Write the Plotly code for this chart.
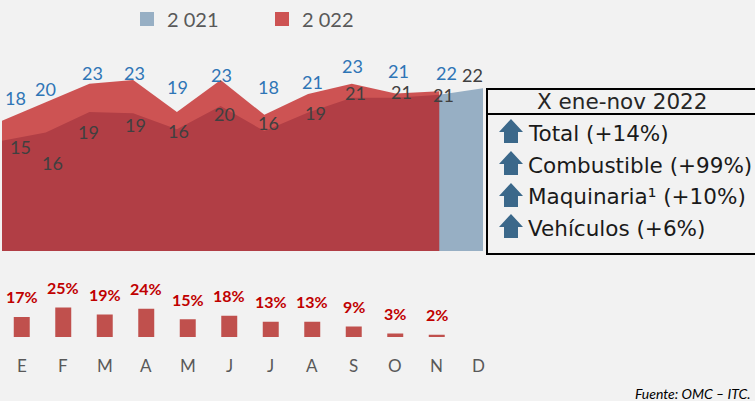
import plotly.graph_objects as go

W, H = 755, 401

# ---- data ----
months = ["E", "F", "M", "A", "M", "J", "J", "A", "S", "O", "N", "D"]
values_2021 = [14.9, 16.0, 18.8, 18.6, 16.45, 19.6, 16.2, 18.7, 20.7, 20.7, 21.1, 22.0]
values_2022 = [17.6, 20.1, 22.6, 23.1, 18.8, 23.1, 18.4, 21.2, 22.6, 21.3, 21.6]
growth_pct = [17, 25, 19, 24, 15, 18, 13, 13, 9, 3, 2]
series_names = ["2 021", "2 022"]
box_title = "X ene-nov 2022"
box_rows = ["Total (+14%)", "Combustible (+99%)", "Maquinaria\u00b9 (+10%)", "Veh\u00edculos (+6%)"]
source_text = "Fuente: OMC \u2013 ITC."

# ---- label placement offsets (pixels, styling only) ----
lbl22_dx = [13, 0, 3, 1, 1, 1, 4, 4, 1, 3, 7]
lbl22_dy = [-23, -13, -11, -7, -25, -5, -28, -12, -18, -22, -18]
lbl21_dx = [18, 7, -1, 2, 2, 4, 4, 7, 4, 6, 4, -11]
lbl21_dy = [6, 30, 20, 12, 2, 8, -8, 0, -5, -6, 0, -13]

BG = "#F2F2F2"
C21 = "#97AFC4"
C22 = "rgba(188,12,12,0.69)"
BAR = "#C0504D"
ARROW = "#3B688A"


def px(x):
    return x / W


def py(y):
    return 1 - y / H


fig = go.Figure()

x21 = list(range(len(values_2021)))
x22 = list(range(len(values_2022)))

fig.add_trace(go.Scatter(x=x21, y=values_2021, mode="none", fill="tozeroy",
                         fillcolor=C21, name=series_names[0], hoverinfo="skip",
                         xaxis="x", yaxis="y"))
fig.add_trace(go.Scatter(x=x22, y=values_2022, mode="none", fill="tozeroy",
                         fillcolor=C22, name=series_names[1], hoverinfo="skip",
                         xaxis="x", yaxis="y"))

bar_x = list(range(len(growth_pct)))
fig.add_trace(go.Bar(x=bar_x, y=growth_pct, marker=dict(color=BAR, line=dict(width=0)),
                     width=0.385, hoverinfo="skip", xaxis="x2", yaxis="y2"))

ann = []
lab_font = "Lato, 'Open Sans', sans-serif"
for i, v in enumerate(values_2022):
    ann.append(dict(x=i, y=v, xref="x", yref="y", text=str(int(round(v))), showarrow=False,
                    xshift=lbl22_dx[i], yshift=-lbl22_dy[i], xanchor="center", yanchor="middle",
                    font=dict(family=lab_font, size=18, color="#2E75B6")))
for i, v in enumerate(values_2021):
    ann.append(dict(x=i, y=v, xref="x", yref="y", text=str(int(round(v))), showarrow=False,
                    xshift=lbl21_dx[i], yshift=-lbl21_dy[i], xanchor="center", yanchor="middle",
                    font=dict(family=lab_font, size=18, color="#404040")))

for i, p in enumerate(growth_pct):
    ann.append(dict(x=i, y=p, xref="x2", yref="y2", text=f"<b>{p}%</b>", showarrow=False,
                    yshift=20, xanchor="center", yanchor="middle",
                    font=dict(family=lab_font, size=16, color="#C00000")))

for i, m in enumerate(months):
    ann.append(dict(x=i, y=0, xref="x2", yref="y2 domain", text=m, showarrow=False,
                    yshift=-28, xanchor="center", yanchor="middle",
                    font=dict(family=lab_font, size=17, color="#595959")))

# legend
shapes = []
leg = [(140, C21, series_names[0]), (275, C22, series_names[1])]
for lx, col, name in leg:
    shapes.append(dict(type="rect", xref="paper", yref="paper", x0=px(lx), x1=px(lx + 14),
                       y0=py(26), y1=py(12), fillcolor=col, line=dict(width=0), layer="above"))
    ann.append(dict(x=px(lx + 25), y=py(19), xref="paper", yref="paper", text=name,
                    showarrow=False, xanchor="left", yanchor="middle",
                    font=dict(family=lab_font, size=20, color="#595959")))

# info box
shapes.append(dict(type="rect", xref="paper", yref="paper", x0=px(487), x1=px(790),
                   y0=py(254), y1=py(89), line=dict(color="black", width=2), layer="above"))
shapes.append(dict(type="line", xref="paper", yref="paper", x0=px(487), x1=px(790),
                   y0=py(114), y1=py(114), line=dict(color="black", width=2), layer="above"))
box_font = "'DejaVu Sans', Verdana, sans-serif"
ann.append(dict(x=px(622), y=py(102), xref="paper", yref="paper", text=box_title,
                showarrow=False, xanchor="center", yanchor="middle",
                font=dict(family=box_font, size=21.5, color="#262626")))
row_y = [133, 165, 197, 228]
for t, yc in zip(box_rows, row_y):
    ann.append(dict(x=px(526), y=py(yc), xref="paper", yref="paper", text=t,
                    showarrow=False, xanchor="left", yanchor="middle",
                    font=dict(family=box_font, size=21.5, color="#1A1A1A")))
    cx = 511
    pts = [(cx, yc - 14), (cx + 12, yc - 1), (cx + 7, yc - 1), (cx + 7, yc + 10),
           (cx - 7, yc + 10), (cx - 7, yc - 1), (cx - 12, yc - 1)]
    path = "M " + " L ".join(f"{px(a):.5f},{py(b):.5f}" for a, b in pts) + " Z"
    shapes.append(dict(type="path", xref="paper", yref="paper", path=path,
                       fillcolor=ARROW, line=dict(width=0), layer="above"))

ann.append(dict(x=px(633), y=py(393), xref="paper", yref="paper", text=f"<i>{source_text}</i>",
                showarrow=False, xanchor="left", yanchor="middle",
                font=dict(family=lab_font, size=14, color="#000000")))

fig.update_layout(
    width=W, height=H, margin=dict(l=0, r=0, t=0, b=0),
    paper_bgcolor=BG, plot_bgcolor="rgba(0,0,0,0)", showlegend=False,
    xaxis=dict(domain=[px(2), px(483)], range=[0, 11], visible=False),
    yaxis=dict(domain=[py(251), py(29)], range=[0, 30], visible=False),
    xaxis2=dict(domain=[px(1), px(499)], range=[-0.5, 11.5], visible=False, anchor="y2"),
    yaxis2=dict(domain=[py(337), py(301.6)], range=[0, 30], visible=False, anchor="x2"),
    annotations=ann, shapes=shapes,
)

fig.write_html("out.html", config={"displayModeBar": False},
               post_script="document.body.style.margin='0';document.body.style.overflow='hidden';")
